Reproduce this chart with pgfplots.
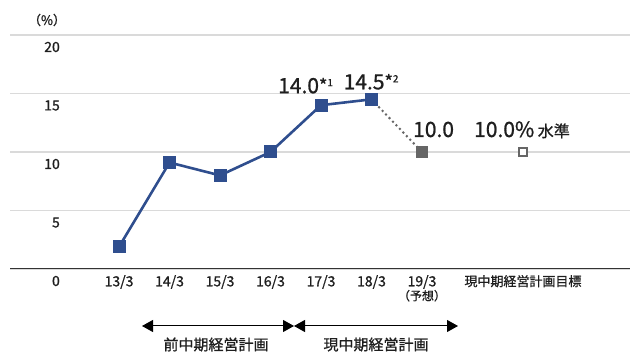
\documentclass[border=0pt]{standalone}
\usepackage{pgfplots}
\pgfplotsset{compat=1.18}
\usepackage{fontspec}
\setmainfont{Noto Sans CJK JP}[FakeBold=1]
\usetikzlibrary{arrows.meta}
\definecolor{navy}{HTML}{2F4E8E}
\definecolor{dgray}{HTML}{666666}
\definecolor{gridc}{HTML}{DADADA}
\definecolor{txt}{HTML}{1E1E1E}
\begin{document}
\begin{tikzpicture}[x=1pt,y=1pt]
\begin{axis}[
  at={(10pt,84pt)}, anchor=south west, scale only axis,
  width=620pt, height=234pt,
  xmin=-2.16, xmax=10.12, ymin=0, ymax=20,
  axis x line*=bottom, axis y line*=left,
  x axis line style={-, draw=black!80, line width=1pt},
  y axis line style={draw=none},
  major tick length=0pt,
  ytick={0,5,10,15,20},
  ymajorgrids, grid style={draw=gridc, line width=1.3pt},
  /pgf/number format/assume math mode=true,
  yticklabel style={anchor=east, inner sep=0pt, xshift=50pt, yshift=-12pt,
    font=\fontsize{14}{14}\selectfont, text=txt},
  xtick={0,1,2,3,4,5,6,8},
  xticklabels={13/3,14/3,15/3,16/3,17/3,18/3,
    {19/3\\[-1pt]{\fontsize{12}{13}\selectfont （予想）}},
    {\fontsize{13}{13}\selectfont 現中期経営計画目標}},
  xticklabel style={align=center, anchor=north, inner sep=0pt, yshift=-6pt,
    font=\fontsize{14}{15}\selectfont, text=txt},
  clip=false,
]
\addplot[dgray, line width=2pt, dash pattern=on 2pt off 3pt] coordinates {(5,14.5) (6,10.0)};
\addplot[navy, line width=2.6pt, mark=square*, mark size=6pt, mark options={solid, fill=navy, line width=0pt}]
  coordinates {(0,1.9) (1,9.1) (2,8.0) (3,10.0) (4,14.0) (5,14.5)};
\addplot[only marks, mark=square*, mark size=5.7pt, dgray, mark options={fill=dgray, line width=0pt}]
  coordinates {(6,10.0)};
\addplot[only marks, mark=square*, mark size=4.2pt, mark options={draw=dgray, fill=white, line width=2pt}]
  coordinates {(8,10.0)};
\node[anchor=base west, inner sep=0pt, text=txt, xshift=-43pt, yshift=12pt] at (axis cs:4,14.0)
  {\fontsize{21}{21}\selectfont 14.0\raisebox{1pt}{\fontsize{18}{18}\selectfont *}\raisebox{7pt}{\fontsize{10}{10}\selectfont 1}};
\node[anchor=base west, inner sep=0pt, text=txt, xshift=-28pt, yshift=10pt] at (axis cs:5,14.5)
  {\fontsize{21}{21}\selectfont 14.5\raisebox{1pt}{\fontsize{18}{18}\selectfont *}\raisebox{7pt}{\fontsize{10}{10}\selectfont 2}};
\node[anchor=base west, inner sep=0pt, text=txt, xshift=-9pt, yshift=15pt] at (axis cs:6,10.0)
  {\fontsize{21}{21}\selectfont 10.0};
\node[anchor=base west, inner sep=0pt, text=txt, xshift=-49pt, yshift=15pt] at (axis cs:8,10.0)
  {\fontsize{21}{21}\selectfont 10.0\%\,\fontsize{16}{16}\selectfont 水準};
\end{axis}
\node[text=txt, font=\fontsize{13}{13}\selectfont] at (47,333) {（\%）};
\draw[line width=1pt, {Triangle[length=11pt,width=12pt]}-{Triangle[length=11pt,width=12pt]}] (142,27) -- (294,27);
\draw[line width=1pt, {Triangle[length=11pt,width=12pt]}-{Triangle[length=11pt,width=12pt]}] (294,27) -- (458,27);
\node[text=txt, font=\fontsize{15}{15}\selectfont] at (216,8.5) {前中期経営計画};
\node[text=txt, font=\fontsize{15}{15}\selectfont] at (376,8.5) {現中期経営計画};
\pgfresetboundingbox
\path[use as bounding box] (0,0) rectangle (633,353);
\end{tikzpicture}
\end{document}
